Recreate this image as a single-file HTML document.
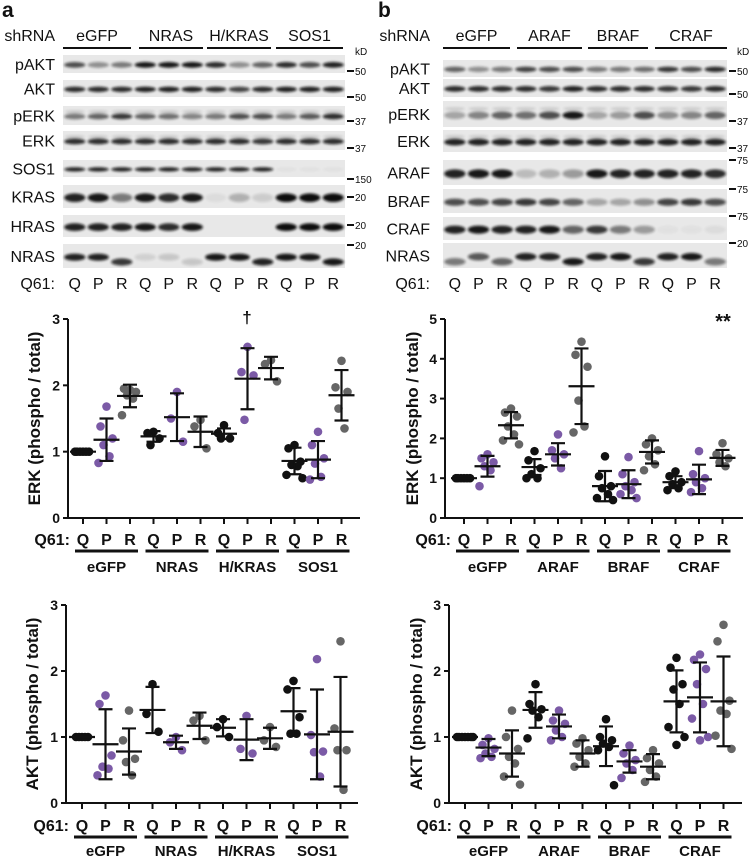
<!DOCTYPE html>
<html><head><meta charset="utf-8">
<style>
html,body{margin:0;padding:0;background:#fff;}
svg{display:block;font-family:"Liberation Sans",Arial,sans-serif;}
</style></head>
<body>
<svg id="fig" width="750" height="858" viewBox="0 0 750 858" xmlns="http://www.w3.org/2000/svg">
<defs>
<filter id="blur1" x="-20%" y="-50%" width="140%" height="200%"><feGaussianBlur stdDeviation="1.2"/></filter>
</defs>
<g id="blots"></g>
<g id="charts"></g>
</svg>
<script>
// ===== Chart data =====
const groupsA = ["eGFP","NRAS","H/KRAS","SOS1"];
const groupsB = ["eGFP","ARAF","BRAF","CRAF"];
const mutants = ["Q","P","R"];
const ticksErkA = [0,1,2,3];
const ticksErkB = [0,1,2,3,4,5];
const ticksAkt = [0,1,2,3];

const erkAPoints = [
 [1,1,1,1,1,1],[1.68,1.38,1.2,1.1,0.93,0.83],[1.93,1.95,1.9,1.85,1.8,1.55],
 [1.3,1.28,1.2,1.1],[1.9,1.5,1.15],[1.48,1.38,1.05],
 [1.4,1.28,1.2,1.2],[2.58,2.2,2.15,1.48],[2.38,2.32,2.06],
 [1.1,1.05,0.85,0.8,0.78,0.65,0.6],[1.3,1.1,0.9,0.82,0.62,0.58],[2.37,1.97,1.9,1.65,1.35]
];
const erkAMeans = [1,1.18,1.84,1.23,1.52,1.3,1.27,2.1,2.26,0.86,0.88,1.85];
const erkASD = [0,0.32,0.17,0.08,0.36,0.23,0.08,0.46,0.17,0.2,0.28,0.38];

const erkBPoints = [
 [1,1,1,1,1,1],[1.6,1.5,1.4,1.3,1.2,0.8],[2.75,2.65,2.55,2.3,2.1,1.95,1.85],
 [1.68,1.45,1.25,1.1,1.0,1.0],[2.1,1.7,1.6,1.5,1.25],[4.43,4.1,3.8,2.95,2.3,2.15],
 [1.55,1.05,0.8,0.75,0.6,0.5,0.45],[1.53,1.1,0.9,0.8,0.7,0.6,0.5],[2.0,1.85,1.7,1.55,1.35,1.2],
 [1.17,1.05,0.9,0.85,0.75,0.7],[1.68,1.1,1.0,0.9,0.75,0.65],[1.88,1.6,1.5,1.4,1.3]
];
const erkBMeans = [1,1.3,2.33,1.28,1.6,3.31,0.8,0.85,1.66,0.9,0.97,1.51];
const erkBSD = [0,0.26,0.33,0.2,0.28,0.95,0.38,0.35,0.29,0.15,0.37,0.2];

const aktAPoints = [
 [1,1,1,1,1],[1.63,1.5,0.72,0.55,0.52,0.42],[1.4,0.95,0.67,0.62,0.42],
 [1.8,1.35,1.08],[1.0,0.92,0.8],[1.32,1.25,0.95],
 [1.27,1.15,1.0],[1.32,0.82,0.75],[1.15,0.95,0.85],
 [1.85,1.72,1.3,1.05,1.05],[2.18,1.03,0.78,0.77,0.4],[2.45,1.13,0.8,0.8,0.2]
];
const aktAMeans = [1,0.89,0.78,1.41,0.92,1.17,1.14,0.96,0.98,1.39,1.04,1.08];
const aktASD = [0,0.53,0.35,0.35,0.1,0.2,0.13,0.31,0.16,0.35,0.68,0.83];

const aktBPoints = [
 [1,1,1,1,1,1,1],[0.98,0.88,0.82,0.75,0.7,0.68],[1.4,1.0,0.82,0.7,0.6,0.4,0.28],
 [1.8,1.5,1.42,1.4,1.3,0.98],[1.4,1.25,1.2,1.1,1.0,0.95],[0.98,0.9,0.8,0.7,0.6,0.55],
 [1.27,1.0,0.95,0.9,0.85,0.8,0.27],[0.87,0.75,0.65,0.6,0.5,0.38],[0.8,0.68,0.6,0.5,0.4,0.32],
 [2.2,2.05,1.8,1.72,1.5,1.15,1.0,0.88],[2.25,2.17,2.03,1.8,1.5,1.28,1.0,0.95],[2.7,2.45,1.55,1.4,1.35,1.02,0.82]
];
const aktBMeans = [1,0.84,0.75,1.41,1.16,0.75,0.86,0.63,0.55,1.54,1.6,1.54];
const aktBSD = [0,0.13,0.35,0.27,0.18,0.2,0.3,0.17,0.19,0.47,0.53,0.68];

const NS="http://www.w3.org/2000/svg";
function mk(tag, attrs, parent, text){
  const e=document.createElementNS(NS,tag);
  for(const k in attrs) e.setAttribute(k,attrs[k]);
  if(text!==undefined) e.textContent=text;
  parent.appendChild(e); return e;
}
const colors=["#111111","#7b5aa6","#666666"];

function drawChart(cfg){
  const g=mk("g",{},document.getElementById("charts"));
  
  
  const yScale=v=>cfg.y0-(v/cfg.ymax)*(cfg.y0-cfg.yTop);
  const xScale=i=>cfg.x0cat+i*cfg.step;
  const ya=mk("line",{x1:cfg.ax,y1:yScale(cfg.ymax),x2:cfg.ax,y2:cfg.y0,stroke:"#111","stroke-width":2},g);
  
  
  const xa=mk("line",{x1:cfg.ax-1,y1:cfg.y0,x2:cfg.axEnd,y2:cfg.y0,stroke:"#111","stroke-width":2},g);
  
  
  cfg.ticks.forEach(t=>{
    const y=yScale(t);
    const tl=mk("line",{x1:cfg.ax-5,y1:y,x2:cfg.ax,y2:y,stroke:"#111","stroke-width":2},g);
    
    
    const tt=mk("text",{x:cfg.ax-8,y:y+5,"text-anchor":"end","font-size":14,"font-weight":"bold",fill:"#111"},g,String(t));
    
    
  });
  for(let i=0;i<12;i++){
    const x=xScale(i);
    const tk=mk("line",{x1:x,y1:cfg.y0,x2:x,y2:cfg.y0+6,stroke:"#111","stroke-width":2},g);
    
    
  }
  const cy=(cfg.y0+yScale(cfg.ymax))/2;
  const ti=mk("text",{x:0,y:0,transform:`translate(${cfg.titleX},${cy}) rotate(-90)`,"text-anchor":"middle","font-size":17,"font-weight":"bold",fill:"#111"},g,cfg.title);
  
  
  cfg.points.forEach((arr,i)=>{
    const cx=xScale(i), col=colors[i%3];
    const sg=mk("g",{},g);
    
    
    arr.forEach((v,j)=>{
      const off=[0,-6,6,-3,3,-8,8,0][j%8];
      const c=mk("circle",{cx:cx+off,cy:yScale(v),r:4.3,fill:col},sg);
      
      
    });
    const m=cfg.means[i], s=cfg.sd[i];
    const ml=mk("line",{x1:cx-13,y1:yScale(m),x2:cx+13,y2:yScale(m),stroke:"#111","stroke-width":2.2},sg);
    
    
    if(s>0){
      const eb=mk("path",{d:`M${cx},${yScale(m+s)}V${yScale(m-s)}M${cx-7},${yScale(m+s)}H${cx+7}M${cx-7},${yScale(m-s)}H${cx+7}`,stroke:"#111","stroke-width":2.2,fill:"none"},sg);
      
      
    }
  });
  const q=mk("text",{x:xScale(0)-13,y:cfg.labY,"text-anchor":"end","font-size":16,"font-weight":"bold",fill:"#111"},g,"Q61:");
  
  
  for(let i=0;i<12;i++){
    const t=mk("text",{x:xScale(i),y:cfg.labY,"text-anchor":"middle","font-size":16,"font-weight":"bold",fill:"#111"},g,mutants[i%3]);
    
    
  }
  cfg.groups.forEach((gr,k)=>{
    const xa=xScale(3*k)-8, xb=xScale(3*k+2)+8;
    const ul=mk("line",{x1:xa,y1:cfg.labY+6,x2:xb,y2:cfg.labY+6,stroke:"#111","stroke-width":3},g);
    
    
    const gt=mk("text",{x:xScale(3*k+1),y:cfg.labY+cfg.gOff,"text-anchor":"middle","font-size":15,"font-weight":"bold",fill:"#111"},g,gr);
    
    
  });
  if(cfg.mark){
    const mt=mk("text",{x:cfg.mark.x,y:cfg.mark.y,"text-anchor":"middle","font-size":cfg.mark.size,"font-weight":"bold",fill:"#111"},g,cfg.mark.t);
    
    
  }
}

drawChart({name:"erk-chart-a",ax:68,axEnd:360,y0:518,yTop:319,ymax:3,ticks:ticksErkA,x0cat:83,step:23.5,
  points:erkAPoints,means:erkAMeans,sd:erkASD,groups:groupsA,title:"ERK (phospho / total)",titleX:40,labY:545,gOff:27,
  mark:{t:"†",x:247,y:323,size:17}});
drawChart({name:"erk-chart-b",ax:445,axEnd:743,y0:518,yTop:319,ymax:5,ticks:ticksErkB,x0cat:464,step:23.5,
  points:erkBPoints,means:erkBMeans,sd:erkBSD,groups:groupsB,title:"ERK (phospho / total)",titleX:418,labY:545,gOff:27,
  mark:{t:"**",x:723,y:328,size:20}});
drawChart({name:"akt-chart-a",ax:66,axEnd:358,y0:803,yTop:605,ymax:3,ticks:ticksAkt,x0cat:82,step:23.5,
  points:aktAPoints,means:aktAMeans,sd:aktASD,groups:groupsA,title:"AKT  (phospho / total)",titleX:38,labY:831,gOff:25});
drawChart({name:"akt-chart-b",ax:449,axEnd:742,y0:803,yTop:605,ymax:3,ticks:ticksAkt,x0cat:465,step:23.5,
  points:aktBPoints,means:aktBMeans,sd:aktBSD,groups:groupsB,title:"AKT  (phospho / total)",titleX:422,labY:831,gOff:25});

// ===== Blots (illustrative) =====
const blotG=document.getElementById("blots");
function drawPanel(p){
  const g=mk("g",{},blotG);
  
  
  const L=mk("text",{x:p.letterX,y:17,"font-size":21,"font-weight":"bold",fill:"#111"},g,p.letter);
  
  
  const sh=mk("text",{x:p.labX,y:41,"text-anchor":"end","font-size":16,fill:"#111"},g,"shRNA");
  
  
  p.heads.forEach(h=>{
    const t=mk("text",{x:(h[1]+h[2])/2,y:41,"text-anchor":"middle","font-size":16,fill:"#111"},g,h[0]);
    
    
    const l=mk("line",{x1:h[1],y1:48,x2:h[2],y2:48,stroke:"#111","stroke-width":2},g);
    
    
  });
  const kd=mk("text",{x:p.x1+10,y:55,"font-size":10,fill:"#111"},g,"kD");
  
  
  const lw=(p.x1-p.x0)/12;
  p.rows.forEach(r=>{
    const rg=mk("g",{},g);
    
    
    mk("rect",{x:p.x0,y:r.y0,width:p.x1-p.x0,height:r.y1-r.y0,fill:"#e8e8e8"},rg);
    const t=mk("text",{x:p.labX,y:(r.y0+r.y1)/2+6,"text-anchor":"end","font-size":16,fill:"#111"},rg,r.n);
    
    
    const h=r.y1-r.y0;
    r.v.forEach((v,i)=>{
      const cx=p.x0+(i+0.5)*lw;
      let by=r.y0+h*0.55, bh=Math.max(3,h*0.25*(r.th||1));
      if(r.low && r.low[i]) by=r.y0+h*0.75;
      if(r.up){ mk("ellipse",{cx:cx,cy:r.y0+h*0.3,rx:lw*0.42,ry:1.6,fill:"#222",opacity:0.15,filter:"url(#blur1)"},rg); }
      mk("ellipse",{cx:cx,cy:by,rx:lw*0.45,ry:bh/2+0.6,fill:"#111",opacity:v,filter:"url(#blur1)"},rg);
    });
    if(r.m){
      const mky=r.my;
      mk("line",{x1:p.x1+2,y1:mky,x2:p.x1+9,y2:mky,stroke:"#111","stroke-width":2},rg);
      const mt=mk("text",{x:p.x1+10,y:mky+4,"font-size":10,fill:"#111"},rg,r.m);
      
      
    }
  });
  const q=mk("text",{x:p.labX,y:289,"text-anchor":"end","font-size":16,fill:"#111"},g,"Q61:");
  
  
  for(let i=0;i<12;i++){
    const t=mk("text",{x:p.x0+(i+0.5)*lw,y:289,"text-anchor":"middle","font-size":16,fill:"#111"},g,mutants[i%3]);
    
    
  }
}
const R3=[0,0,1,0,0,1,0,0,1,0,0,1];
drawPanel({name:"blot-panel-a",letter:"a",letterX:2,labX:55,x0:63,x1:345,
 heads:[["eGFP",63,131],["NRAS",139,203],["H/KRAS",207,271],["SOS1",276,343]],
 rows:[
  {n:"pAKT",y0:55,y1:73,v:[.7,.4,.5,.95,.95,.95,.85,.4,.6,.85,.7,.9],m:"50",my:71},
  {n:"AKT",y0:80,y1:97,v:[.85,.85,.85,.9,.9,.9,.85,.75,.85,.9,.9,.9],m:"50",my:97},
  {n:"pERK",y0:106,y1:125,up:1,v:[.5,.6,.8,.6,.55,.45,.5,.7,.7,.5,.65,.85],m:"37",my:121},
  {n:"ERK",y0:131,y1:150,up:1,v:[.85,.85,.85,.85,.85,.85,.85,.85,.8,.85,.85,.85],m:"37",my:148},
  {n:"SOS1",y0:160,y1:177,th:.6,v:[.9,.9,.9,.9,.9,.9,.9,.9,.9,.03,.03,.03],m:"150",my:179},
  {n:"KRAS",y0:185,y1:208,th:1.3,v:[.9,.95,.5,.95,.85,.95,.05,.25,.12,1,1,1],m:"20",my:197},
  {n:"HRAS",y0:215,y1:237,th:1.2,v:[.9,.9,.9,.95,.85,.95,0,0,0,1,1,1],m:"20",my:225},
  {n:"NRAS",y0:244,y1:268,low:R3,v:[.9,.9,.8,.1,.15,.15,.95,.95,.9,.95,.95,.95],m:"20",my:245}
 ]});
drawPanel({name:"blot-panel-b",letter:"b",letterX:378,labX:430,x0:443,x1:727,
 heads:[["eGFP",443,510],["ARAF",517,582],["BRAF",588,648],["CRAF",655,727]],
 rows:[
  {n:"pAKT",y0:60,y1:77,v:[.6,.4,.5,.75,.7,.7,.5,.5,.55,.8,.7,.85],m:"50",my:71},
  {n:"AKT",y0:79,y1:97,v:[.85,.85,.85,.85,.8,.9,.85,.85,.85,.8,.8,.85],m:"50",my:94},
  {n:"pERK",y0:101,y1:127,up:1,v:[.3,.45,.6,.55,.7,.95,.3,.35,.7,.4,.45,.6],m:"37",my:121},
  {n:"ERK",y0:130,y1:152,up:1,v:[.9,.9,.9,.9,.9,.9,.9,.9,.9,.9,.9,.9],m:"37",my:148},
  {n:"ARAF",y0:160,y1:185,th:1.2,v:[.9,.95,.95,.2,.25,.35,.95,.9,.9,.9,.9,.85],m:"75",my:160},
  {n:"BRAF",y0:189,y1:213,v:[.7,.7,.75,.8,.75,.6,.3,.3,.4,.75,.8,.7],m:"75",my:189},
  {n:"CRAF",y0:217,y1:240,th:1.2,v:[.9,.95,.9,.9,.95,.6,.8,.5,.35,.03,.03,.05],m:"75",my:216},
  {n:"NRAS",y0:243,y1:268,low:[1,0,1,0,0,1,0,0,1,0,0,1],v:[.5,.65,.6,.9,.9,.95,.9,.95,.8,.9,.95,.5],m:"20",my:243}
 ]});
</script>
</body></html>
